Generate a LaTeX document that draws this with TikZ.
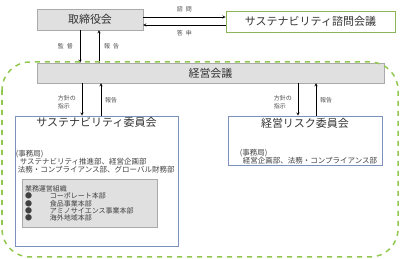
\documentclass[tikz,border=0pt]{standalone}
\usepackage{fontspec}
\setmainfont{Noto Sans CJK JP}
\usetikzlibrary{positioning}
\definecolor{boxgray}{RGB}{224,224,224}
\definecolor{edgegray}{RGB}{170,170,170}
\definecolor{advgreen}{RGB}{140,180,90}
\definecolor{dashgreen}{RGB}{146,200,80}
\definecolor{cmtblue}{RGB}{125,145,190}
\definecolor{labelgray}{RGB}{80,80,80}
\begin{document}
\begin{tikzpicture}[x=1pt,y=-1pt,
		graybox/.style={draw=edgegray, fill=boxgray, inner sep=0pt, text=black!80, font=\fontsize{11}{13}\selectfont},
		cmtbox/.style={draw=cmtblue, thick, inner sep=0pt},
		lbl/.style={text=labelgray, inner sep=0pt, align=left, font=\fontsize{6}{8}\selectfont},
		small/.style={inner sep=0pt, align=left, text=black!75, font=\fontsize{7.5}{7.5}\selectfont}]
		\useasboundingbox (0,0) rectangle (400,259);
		
		% Board and advisory council
		\node[graybox, minimum width=106pt, minimum height=21pt] (board) at (90,19.5) {取締役会};
		\node[draw=advgreen, thick, inner sep=0pt, minimum width=169pt, minimum height=21pt, text=black!80, font=\fontsize{11}{13}\selectfont] (advisory) at (310.5,21.5) {サステナビリティ諮問会議};
		\draw[-stealth] ([yshift=2.5pt]board.east) -- ([yshift=2.5pt]board.east -| advisory.west) node[lbl, midway, above=5pt] {諮\hspace{3pt}問};
		\draw[-stealth] ([yshift=-5.5pt]board.east -| advisory.west) -- ([yshift=-5.5pt]board.east) node[lbl, midway, below=5pt] {答\hspace{3pt}申};
		
		% Management meeting
		\node[graybox, minimum width=347pt, minimum height=20pt] (mgmt) at (210.5,73) {経営会議};
		\draw[-stealth] ([xshift=-10pt]board.south) -- ([xshift=-10pt]board.south |- mgmt.north) node[lbl, midway, left=7pt] {監\hspace{3pt}督};
		\draw[-stealth] ([xshift=9pt]board.south |- mgmt.north) -- ([xshift=9pt]board.south) node[lbl, midway, right=5pt] {報\hspace{3pt}告};
		
		% Group boundary
		\draw[dashgreen, line width=1.5pt, dash pattern=on 5pt off 5pt, rounded corners=28pt] (2,62) rectangle (398,257);
		
		% Sustainability committee
		\node[cmtbox, minimum width=163pt, minimum height=130pt] (sust) at (96.5,181) {};
		\node[below=1.5pt of sust.north, inner sep=0pt, text=black!80, font=\fontsize{11}{13}\selectfont] (sustT) {サステナビリティ委員会};
		\draw[-stealth] (mgmt.south -| 82,0) -- (sust.north -| 82,0) node[lbl, midway, left=6pt, yshift=-3pt] {方針の\\指示};
		\draw[-stealth] (sust.north -| 101,0) -- (mgmt.south -| 101,0) node[lbl, midway, right=4pt, yshift=-1pt] {報告};
		\node[small, anchor=north west] (sustOffice) at ([xshift=1pt,yshift=-34pt]sust.north west) {(事務局)\\\hspace{4pt}サステナビリティ推進部、経営企画部\\\hspace{2pt}法務・コンプライアンス部、グローバル財務部};
		\node[draw=edgegray, fill=boxgray, minimum width=135pt, minimum height=48pt, inner sep=0pt] (units) at (89.5,203) {};
		\node[small, anchor=north west, font=\fontsize{7}{7.4}\selectfont] (unitsList) at ([xshift=3pt,yshift=-6.5pt]units.north west) {業務運営組織\\
			\makebox[25pt][l]{●}コーポレート本部\\
			\makebox[25pt][l]{●}食品事業本部\\
			\makebox[25pt][l]{●}アミノサイエンス事業本部\\
			\makebox[25pt][l]{●}海外地域本部};
		
		% Risk committee
		\node[cmtbox, minimum width=154pt, minimum height=49pt] (risk) at (305,140.5) {};
		\node[below=2pt of risk.north, inner sep=0pt, text=black!80, font=\fontsize{11}{13}\selectfont] (riskT) {経営リスク委員会};
		\draw[-stealth] (mgmt.south -| 298,0) -- (risk.north -| 298,0) node[lbl, midway, left=6pt, yshift=-3pt] {方針の\\指示};
		\draw[-stealth] (risk.north -| 316,0) -- (mgmt.south -| 316,0) node[lbl, midway, right=4pt, yshift=-1pt] {報告};
		\node[small, anchor=north west] (riskOffice) at ([xshift=12pt,yshift=-33pt]risk.north west) {(事務局)\\\hspace{3pt}経営企画部、法務・コンプライアンス部};
\end{tikzpicture}
\end{document}
